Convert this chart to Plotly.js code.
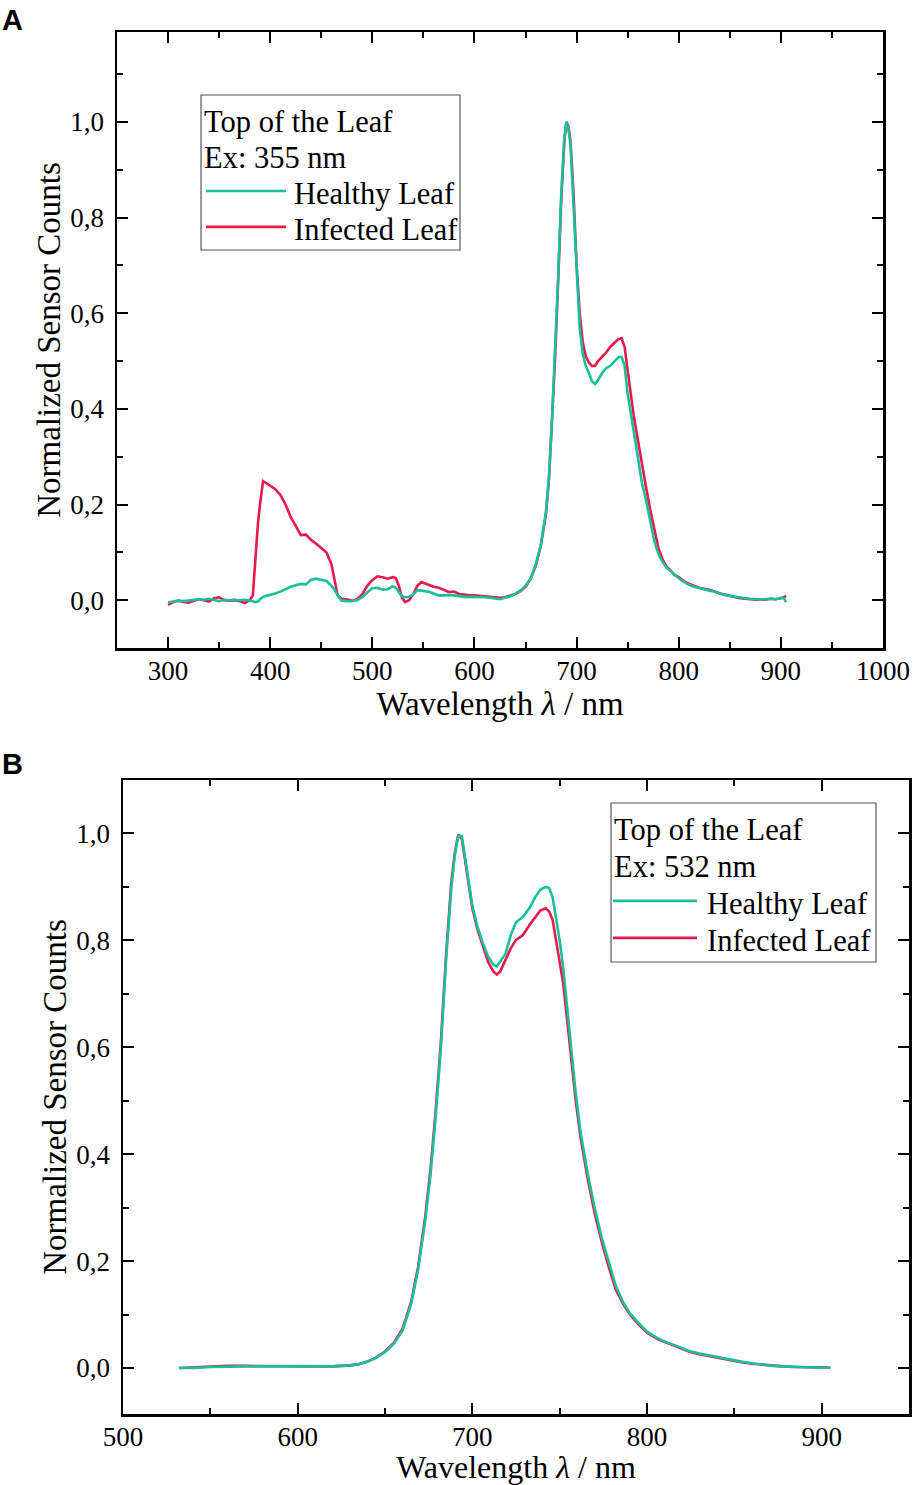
<!DOCTYPE html>
<html>
<head>
<meta charset="utf-8">
<script src="https://cdn.plot.ly/plotly-3.0.1.min.js"></script>
<style>html,body{margin:0;padding:0;background:#fff;}#chart{width:913px;height:1485px;}</style>
</head>
<body>
<div id="chart"></div>
<script>
// ---------- Panel A (Ex: 355 nm) ----------
const waveA = [300,305,310,315,320,325,330,335,340,345,350,355,360,365,370,375,380,383,385,388,390,393,396,400,405,410,415,420,425,430,435,440,445,450,455,460,463,466,470,475,480,485,490,495,500,505,510,515,520,523,526,529,532,536,540,544,548,552,556,560,565,570,575,580,585,590,595,600,605,610,615,620,625,630,635,640,645,650,655,660,665,670,673,676,679,682,685,688,690,692,694,697,700,703,706,709,712,715,718,721,725,729,733,737,741,744,747,750,753,756,760,764,768,772,776,780,784,788,792,796,800,805,810,815,820,825,830,835,840,845,850,855,860,865,870,875,880,885,890,895,900,903,905];
const healthyA = [-0.005,-0.003,-0.001,-0.002,-0.001,0.001,0.002,0.001,0.003,0.001,-0.002,0.001,0.0,0.001,0.0,0.001,0.0,-0.002,-0.004,-0.003,0.002,0.007,0.009,0.011,0.014,0.018,0.023,0.028,0.031,0.034,0.033,0.043,0.045,0.043,0.040,0.030,0.022,0.010,-0.001,-0.002,-0.002,0.0,0.006,0.016,0.025,0.026,0.022,0.023,0.029,0.026,0.018,0.008,0.006,0.007,0.012,0.021,0.020,0.019,0.017,0.014,0.010,0.010,0.011,0.010,0.008,0.007,0.007,0.007,0.007,0.006,0.005,0.003,0.002,0.005,0.008,0.013,0.020,0.030,0.045,0.075,0.115,0.185,0.26,0.38,0.52,0.68,0.85,0.965,1.0,0.985,0.955,0.83,0.68,0.57,0.515,0.49,0.475,0.458,0.452,0.46,0.475,0.485,0.49,0.50,0.508,0.509,0.49,0.432,0.39,0.35,0.30,0.245,0.209,0.165,0.125,0.097,0.080,0.068,0.060,0.052,0.046,0.038,0.032,0.028,0.025,0.023,0.020,0.018,0.014,0.011,0.009,0.007,0.005,0.004,0.003,0.002,0.002,0.002,0.003,0.002,0.005,0.004,-0.004];
const infectedA = [-0.010,-0.004,-0.001,-0.004,-0.005,-0.001,0.002,0.0,-0.003,0.004,0.006,0.0,-0.001,0.0,-0.002,-0.006,0.0,0.010,0.08,0.16,0.20,0.249,0.245,0.239,0.232,0.220,0.200,0.174,0.155,0.136,0.137,0.126,0.118,0.108,0.100,0.075,0.040,0.010,0.003,0.002,-0.001,0.002,0.012,0.030,0.042,0.050,0.048,0.045,0.048,0.046,0.030,0.005,-0.004,0.0,0.012,0.030,0.038,0.035,0.031,0.028,0.026,0.022,0.017,0.018,0.013,0.012,0.010,0.010,0.009,0.008,0.008,0.007,0.005,0.006,0.009,0.013,0.019,0.028,0.045,0.072,0.115,0.18,0.255,0.37,0.51,0.67,0.84,0.96,1.0,0.99,0.96,0.85,0.70,0.60,0.54,0.51,0.497,0.49,0.49,0.50,0.508,0.518,0.53,0.538,0.546,0.548,0.53,0.48,0.43,0.385,0.335,0.282,0.236,0.19,0.15,0.11,0.086,0.070,0.062,0.052,0.048,0.040,0.034,0.030,0.026,0.024,0.022,0.018,0.014,0.012,0.009,0.006,0.004,0.003,0.002,0.001,0.002,0.001,0.003,0.002,0.004,0.006,0.009];

// ---------- Panel B (Ex: 532 nm) ----------
const waveB = [532,540,550,560,570,580,590,600,610,620,630,635,640,645,650,655,660,665,669,673,676,679,682,685,688,690,692,694,697,700,703,706,709,712,714,716,719,722,725,729,733,736,739,742,744,746,748,750,752,754,756,759,762,766,770,774,778,782,786,790,795,800,806,812,818,824,830,836,842,848,854,860,866,872,878,884,890,896,905];
const healthyB = [0.0,0.0,0.002,0.003,0.003,0.003,0.003,0.002,0.002,0.003,0.005,0.007,0.012,0.019,0.030,0.045,0.070,0.12,0.185,0.275,0.36,0.47,0.60,0.765,0.90,0.96,0.995,0.995,0.93,0.865,0.825,0.795,0.77,0.755,0.751,0.76,0.775,0.81,0.834,0.844,0.862,0.881,0.895,0.90,0.898,0.88,0.84,0.80,0.75,0.685,0.62,0.52,0.44,0.365,0.30,0.245,0.20,0.155,0.125,0.103,0.085,0.068,0.056,0.047,0.040,0.032,0.027,0.023,0.019,0.015,0.012,0.009,0.006,0.004,0.003,0.002,0.002,0.001,0.001];
const infectedB = [0.0,0.001,0.003,0.004,0.004,0.004,0.003,0.003,0.003,0.003,0.005,0.007,0.012,0.020,0.031,0.047,0.073,0.124,0.19,0.282,0.37,0.48,0.61,0.775,0.91,0.965,0.998,0.99,0.925,0.86,0.82,0.79,0.76,0.742,0.736,0.742,0.763,0.785,0.801,0.81,0.83,0.843,0.856,0.86,0.854,0.838,0.80,0.765,0.72,0.66,0.60,0.505,0.43,0.355,0.29,0.237,0.19,0.148,0.122,0.101,0.082,0.066,0.054,0.046,0.038,0.031,0.026,0.022,0.018,0.014,0.011,0.008,0.006,0.004,0.003,0.002,0.002,0.001,0.001];

const seriesNames = ['Healthy Leaf','Infected Leaf'];
const legendTitlesA = ['Top of the Leaf','Ex: 355 nm'];
const legendTitlesB = ['Top of the Leaf','Ex: 532 nm'];
const panelLabels = ['A','B'];

const cHealthy = '#16c09b';
const cInfected = '#e8194b';
const serif = 'Liberation Serif, Times New Roman, serif';

const traces = [
  {x: waveA, y: infectedA, name: seriesNames[1], mode:'lines', line:{color:cInfected,width:2.6}, xaxis:'x', yaxis:'y', showlegend:false},
  {x: waveA, y: healthyA, name: seriesNames[0], mode:'lines', line:{color:cHealthy,width:2.6}, xaxis:'x', yaxis:'y', showlegend:false},
  {x: waveB, y: infectedB, name: seriesNames[1], mode:'lines', line:{color:cInfected,width:2.6}, xaxis:'x2', yaxis:'y2', showlegend:false},
  {x: waveB, y: healthyB, name: seriesNames[0], mode:'lines', line:{color:cHealthy,width:2.6}, xaxis:'x2', yaxis:'y2', showlegend:false}
];

const W = 913, H = 1485;
function axisCommon(extra){
  return Object.assign({
    showline:true, linecolor:'#000', linewidth:2.5, mirror:'ticks',
    ticks:'inside', ticklen:11, tickwidth:2, tickcolor:'#000',
    showgrid:false, zeroline:false,
    tickfont:{family:serif, size:27, color:'#000'}
  }, extra);
}
const titleFont = {family:serif, size:33, color:'#000'};
const titleFontB = {family:serif, size:32, color:'#000'};

const layout = {
  width: W, height: H,
  margin:{l:0,r:0,t:0,b:0},
  paper_bgcolor:'#fff', plot_bgcolor:'#fff',
  separators: ',.',
  showlegend:false,
  xaxis: axisCommon({domain:[117/W, 883/W], anchor:'y', range:[250,1000], dtick:100, tick0:0, ticklabelstandoff:-3,
    minor:{ticks:'inside', ticklen:6, tickwidth:2, dtick:50, tickcolor:'#000', showgrid:false},
    title:{text:'Wavelength <i>λ</i> / nm', font:titleFont, standoff:2}}),
  yaxis: axisCommon({domain:[1-648/H, 1-32/H], anchor:'x', range:[-0.1,1.188], dtick:0.2, tick0:0, tickformat:'.1f', ticklabelstandoff:5,
    minor:{ticks:'inside', ticklen:6, tickwidth:2, dtick:0.1, tickcolor:'#000', showgrid:false},
    title:{text:'Normalized Sensor Counts', font:titleFont, standoff:0}}),
  xaxis2: axisCommon({domain:[123/W, 909/W], anchor:'y2', range:[500,950], dtick:100, tick0:0, ticklabelstandoff:-3,
    minor:{ticks:'inside', ticklen:6, tickwidth:2, dtick:50, tickcolor:'#000', showgrid:false},
    title:{text:'Wavelength <i>λ</i> / nm', font:titleFontB, standoff:0}}),
  yaxis2: axisCommon({domain:[1-1414/H, 1-780/H], anchor:'x2', range:[-0.086,1.1], dtick:0.2, tick0:0, tickformat:'.1f', ticklabelstandoff:5,
    minor:{ticks:'inside', ticklen:6, tickwidth:2, dtick:0.1, tickcolor:'#000', showgrid:false},
    title:{text:'Normalized Sensor Counts', font:titleFont, standoff:0}}),
  shapes: [],
  annotations: []
};

// legend boxes drawn in axis-domain coordinates
function addLegend(xs, ys, titles, legend){
  const xr = xs + ' domain', yr = ys + ' domain';
  const f = {family:serif, size:30.5, color:'#000'};
  layout.shapes.push({type:'rect', xref:xr, yref:yr, x0:legend.box[0], x1:legend.box[1], y0:legend.box[2], y1:legend.box[3],
    line:{color:'#555', width:1.2}, fillcolor:'#fff', layer:'above'});
  titles.forEach((t,i)=>{
    layout.annotations.push({xref:xr, yref:yr, x:legend.textX, y:legend.rows[i], xanchor:'left', yanchor:'middle',
      text:t, showarrow:false, font:f});
  });
  [[seriesNames[0], cHealthy],[seriesNames[1], cInfected]].forEach((s,k)=>{
    const yy = legend.rows[2+k];
    layout.shapes.push({type:'line', xref:xr, yref:yr, x0:legend.line[0], x1:legend.line[1], y0:yy+legend.lineOff, y1:yy+legend.lineOff,
      line:{color:s[1], width:2.6}, layer:'above'});
    layout.annotations.push({xref:xr, yref:yr, x:legend.entryX, y:yy, xanchor:'left', yanchor:'middle',
      text:s[0], showarrow:false, font:f});
  });
}
addLegend('x','y', legendTitlesA, {box:[0.1097,0.4478,0.6461,0.8977], textX:0.1110, entryX:0.2290,
  rows:[0.8539,0.7955,0.7370,0.6786], line:[0.1162,0.2206], lineOff:0.005});
addLegend('x2','y2', legendTitlesB, {box:[0.6209,0.9580,0.7129,0.9637], textX:0.6220, entryX:0.7400,
  rows:[0.9211,0.8628,0.8044,0.7460], line:[0.6234,0.7303], lineOff:0.005});

// panel letters
layout.annotations.push({xref:'paper', yref:'paper', x:0, y:1-2/H, xanchor:'left', yanchor:'top', text:'<b>'+panelLabels[0]+'</b>',
  showarrow:false, font:{family:'Liberation Sans, Arial, sans-serif', size:29, color:'#000'}});
layout.annotations.push({xref:'paper', yref:'paper', x:0, y:1-746/H, xanchor:'left', yanchor:'top', text:'<b>'+panelLabels[1]+'</b>',
  showarrow:false, font:{family:'Liberation Sans, Arial, sans-serif', size:29, color:'#000'}});

Plotly.newPlot('chart', traces, layout, {staticPlot:true, displayModeBar:false});
</script>
</body>
</html>
